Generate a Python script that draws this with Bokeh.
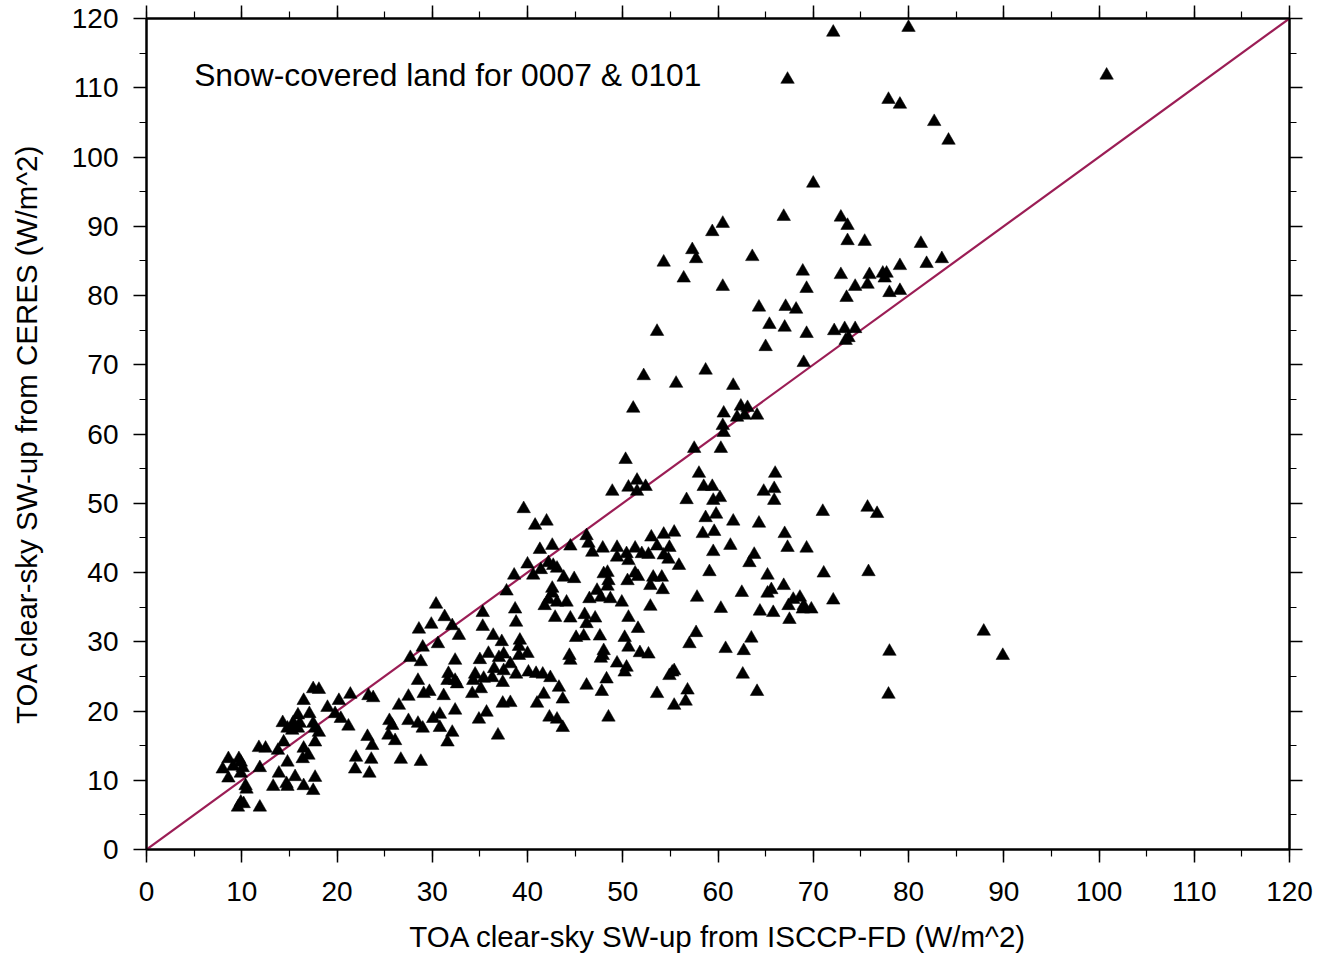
from bokeh.plotting import figure
from bokeh.models import Range1d, LinearAxis, SingleIntervalTicker, Label, CustomJSTickFormatter, ColumnDataSource
from bokeh.embed import file_html
from bokeh.resources import INLINE

# (ISCCP-FD, CERES) pairs in W/m^2, grouped by region of the chart
pts_top = [(72.1, 118.0), (80.0, 118.7), (67.3, 111.2), (100.8, 111.8), (77.9, 108.3),
           (79.1, 107.6), (82.7, 105.1), (84.2, 102.4)]

pts_upper = [(70.0, 96.2), (66.9, 91.4), (60.5, 90.4), (59.4, 89.2), (72.9, 91.3), (73.6, 90.1),
             (73.6, 87.9), (75.4, 87.8), (57.3, 86.6), (57.7, 85.3), (63.6, 85.6), (54.3, 84.8),
             (56.4, 82.5), (60.5, 81.3), (68.9, 83.5), (69.3, 81.0), (72.9, 83.0), (75.9, 83.0),
             (77.3, 83.2), (77.7, 83.2), (77.5, 82.5), (74.4, 81.3), (75.7, 81.6), (79.1, 84.3),
             (78.0, 80.4), (79.1, 80.7), (73.5, 79.7), (64.3, 78.3), (67.1, 78.4), (68.2, 78.0),
             (65.4, 75.8), (67.0, 75.4), (69.3, 74.5), (72.2, 74.9), (73.3, 75.2), (74.4, 75.2),
             (73.4, 73.5), (73.7, 73.9), (65.0, 72.6), (53.6, 74.8), (69.0, 70.3), (52.2, 68.4),
             (55.6, 67.3), (58.7, 69.2), (61.6, 67.0), (51.1, 63.7), (81.3, 87.5), (81.9, 84.6),
             (83.5, 85.3)]

pts_mid_right = [(62.4, 64.0), (63.1, 63.8), (60.6, 63.0), (62.0, 62.4), (62.8, 62.7), (64.1, 62.7),
                 (60.5, 61.2), (60.6, 60.2), (57.5, 57.9), (60.3, 57.9), (58.0, 54.3), (58.5, 52.4),
                 (59.4, 52.4), (56.7, 50.5), (59.5, 50.4), (60.2, 50.8), (66.0, 54.3), (64.8, 51.7),
                 (65.9, 52.1), (65.9, 50.4), (71.0, 48.8), (58.7, 47.9), (59.8, 48.4), (61.6, 47.4),
                 (64.3, 47.1), (58.4, 45.6), (59.6, 45.9), (55.4, 45.8), (53.0, 45.1), (54.3, 45.5),
                 (67.0, 45.6), (67.3, 43.6), (69.3, 43.5), (61.3, 43.9), (59.5, 43.0), (53.6, 43.8),
                 (54.9, 43.6), (52.7, 42.6), (54.3, 42.5), (54.8, 41.9), (55.9, 41.0), (63.8, 42.6),
                 (63.3, 41.4), (59.1, 40.1), (65.2, 39.6), (71.1, 39.9), (66.9, 38.1), (65.6, 37.5),
                 (65.2, 37.0), (62.5, 37.1), (57.8, 36.4), (53.2, 39.3), (54.1, 39.3), (52.9, 38.1),
                 (54.2, 37.5), (52.9, 35.1), (67.9, 36.1), (68.6, 36.4), (67.4, 35.2), (69.0, 35.2),
                 (69.8, 34.7), (68.9, 34.7), (72.1, 36.0), (60.3, 34.8), (64.4, 34.4), (65.8, 34.2),
                 (67.5, 33.2), (57.7, 31.3), (63.5, 30.5)]

pts_far_right = [(75.7, 49.4), (76.7, 48.5), (75.8, 40.1), (87.9, 31.5), (89.9, 28.0), (78.0, 28.6),
                 (77.9, 22.4), (64.1, 22.8), (62.6, 25.3), (60.8, 29.0), (62.7, 28.7)]

pts_middle = [(39.6, 49.2), (40.8, 46.8), (42.0, 47.4), (41.3, 43.3), (42.6, 43.9), (44.5, 43.8),
              (40.0, 41.2), (40.6, 39.6), (41.4, 40.4), (42.2, 41.4), (42.7, 41.0), (43.1, 40.6),
              (43.8, 39.3), (44.9, 39.1), (46.2, 45.3), (46.4, 44.2), (46.8, 42.9), (47.9, 43.5),
              (49.4, 43.6), (49.4, 42.2), (50.4, 42.7), (50.6, 41.7), (51.3, 43.5), (52.0, 42.7),
              (48.0, 39.8), (48.4, 40.0), (48.5, 38.8), (50.5, 38.8), (51.3, 39.9), (51.6, 39.4),
              (48.4, 38.0), (47.3, 37.4), (46.5, 36.2), (47.7, 36.4), (48.7, 36.2), (49.9, 35.7),
              (42.6, 37.7), (42.6, 37.0), (42.2, 36.1), (43.1, 35.7), (44.1, 35.7), (41.8, 35.2),
              (42.9, 33.5), (44.5, 33.4), (46.0, 33.9), (47.1, 33.4), (46.2, 32.6), (50.6, 33.5),
              (51.6, 31.9), (45.1, 30.6), (45.9, 30.8), (47.6, 30.8), (50.2, 30.6), (50.6, 29.2),
              (48.0, 28.7), (47.9, 28.0), (47.7, 27.6), (44.4, 28.0), (44.5, 27.3), (51.8, 28.4),
              (52.7, 28.2), (49.4, 26.9), (50.4, 26.3), (50.2, 25.6), (55.2, 25.6), (55.4, 25.8),
              (54.9, 25.1), (57.0, 29.7), (40.1, 25.6), (40.9, 25.4), (41.6, 25.3), (42.4, 24.8),
              (43.3, 23.4), (41.7, 22.4), (41.0, 21.1), (43.7, 21.7), (46.2, 23.7), (48.3, 24.6),
              (47.8, 22.8), (42.3, 19.1), (43.1, 18.8), (43.7, 17.6), (48.5, 19.1), (53.6, 22.5),
              (56.8, 23.0), (56.6, 21.4), (55.4, 20.8), (38.6, 39.6), (50.3, 56.3), (51.5, 53.3),
              (50.6, 52.3), (52.4, 52.4), (51.5, 51.7), (48.9, 51.7)]

pts_lower_mid = [(30.4, 35.4), (31.3, 33.6), (29.9, 32.5), (28.6, 31.8), (32.1, 32.3), (32.8, 30.9),
                 (30.6, 29.7), (29.0, 29.2), (27.7, 27.7), (28.8, 27.1), (32.4, 27.3), (37.8, 37.3),
                 (35.3, 34.2), (38.7, 34.7), (35.3, 32.2), (38.8, 32.8), (36.4, 30.9), (37.3, 30.0),
                 (39.2, 30.2), (39.1, 29.3), (40.0, 28.3), (39.1, 28.0), (35.9, 28.3), (35.0, 27.4),
                 (37.0, 27.7), (37.5, 28.2), (38.2, 26.8), (36.5, 26.1), (37.5, 25.8), (31.7, 25.4),
                 (32.4, 24.4), (31.6, 24.4), (32.6, 23.9), (34.5, 25.3), (34.3, 24.4), (35.4, 24.7),
                 (36.3, 24.8), (37.4, 24.1), (34.2, 22.5), (35.1, 23.2), (38.8, 25.3), (28.5, 24.4),
                 (29.1, 22.5), (29.7, 22.8), (31.2, 22.2), (27.5, 22.1), (26.5, 20.8), (32.4, 20.1),
                 (37.4, 21.1), (38.2, 21.2), (35.7, 19.8), (34.9, 18.8), (30.8, 19.5), (30.1, 18.9),
                 (30.8, 17.6), (32.1, 16.9), (31.6, 15.5), (25.5, 18.6), (25.8, 17.9), (27.5, 18.6),
                 (28.5, 18.2), (29.0, 17.5), (25.4, 16.5), (26.1, 15.7), (23.2, 16.3), (23.7, 15.0),
                 (36.9, 16.5), (26.7, 13.0), (28.8, 12.7), (22.0, 13.3), (23.6, 13.0), (21.9, 11.6),
                 (23.4, 11.0), (23.3, 22.2), (23.8, 21.9)]

pts_low = [(17.5, 23.2), (18.1, 23.1), (16.5, 21.5), (20.2, 21.5), (21.4, 22.4), (19.0, 20.5),
           (19.8, 19.6), (20.4, 18.9), (21.2, 17.8), (15.9, 19.4), (17.1, 19.6), (14.3, 18.3),
           (15.4, 18.3), (16.1, 18.2), (14.8, 17.5), (15.3, 17.2), (15.9, 17.5), (17.5, 18.2),
           (17.7, 17.5), (18.1, 16.9), (17.7, 15.5), (14.4, 15.5), (11.8, 14.7), (12.5, 14.6),
           (13.8, 14.3), (16.5, 14.6), (17.0, 13.6), (16.4, 13.1), (14.8, 12.6), (8.6, 13.1),
           (9.7, 13.1), (9.9, 12.6), (8.0, 11.6), (9.1, 12.0), (10.1, 11.8), (9.9, 11.0),
           (8.6, 10.3), (11.9, 11.8), (13.9, 11.0), (15.6, 10.5), (14.7, 9.5), (13.3, 9.1),
           (14.8, 9.1), (16.5, 9.2), (17.7, 10.4), (17.5, 8.5), (10.4, 9.2), (10.5, 8.7),
           (9.9, 6.8), (9.6, 6.1), (10.2, 6.6), (11.9, 6.1)]

one_to_one = [0, 120]

all_pts = pts_top + pts_upper + pts_mid_right + pts_far_right + pts_middle + pts_lower_mid + pts_low
src = ColumnDataSource(dict(isccp=[a for a, b in all_pts], ceres=[b for a, b in all_pts]))

FONT = "Liberation Sans"

p = figure(width=1318, height=958, x_range=Range1d(0, 120), y_range=Range1d(0, 120),
           output_backend="svg", toolbar_location=None,
           min_border_left=146, min_border_right=29, min_border_top=18, min_border_bottom=109)
p.background_fill_color = "white"
p.border_fill_color = "white"
p.outline_line_color = "black"
p.outline_line_width = 2
p.xgrid.visible = False
p.ygrid.visible = False

p.add_layout(LinearAxis(), "above")
p.add_layout(LinearAxis(), "right")

for ax in p.axis:
    ax.ticker = SingleIntervalTicker(interval=10, num_minor_ticks=2)
    ax.axis_line_color = "black"
    ax.axis_line_width = 2
    ax.major_tick_line_color = "black"
    ax.major_tick_line_width = 1.5
    ax.minor_tick_line_color = "black"
    ax.minor_tick_line_width = 1.2
    ax.major_tick_in = 0
    ax.major_tick_out = 13
    ax.minor_tick_in = 0
    ax.minor_tick_out = 7
    ax.major_label_text_font = FONT
    ax.major_label_text_font_size = "28px"
    ax.major_label_text_color = "black"
    ax.axis_label_text_font = FONT
    ax.axis_label_text_font_size = "29.5px"
    ax.axis_label_text_font_style = "normal"
    ax.axis_label_text_color = "black"

for ax in p.above + p.right:
    ax.formatter = CustomJSTickFormatter(code="return ''")
    ax.major_label_text_font_size = "0px"
    ax.major_label_standoff = 0

p.below[0].axis_label = "TOA clear-sky SW-up from ISCCP-FD (W/m^2)"
p.left[0].axis_label = "TOA clear-sky SW-up from CERES (W/m^2)"
p.below[0].major_label_standoff = 19
p.below[0].axis_label_standoff = 16
p.left[0].major_label_standoff = 15
p.left[0].axis_label_standoff = 26

p.line(x=one_to_one, y=one_to_one, line_color="#9B1D55", line_width=2.2)
p.scatter(x="isccp", y="ceres", source=src, marker="triangle", size=13.5,
          fill_color="black", line_color="black", line_width=0.5)

p.add_layout(Label(x=5, y=111.8, text="Snow-covered land for 0007 & 0101",
                   text_font=FONT, text_font_size="31.8px", text_color="black",
                   text_baseline="middle", text_align="left"))

open("out.html", "w").write(file_html(p, INLINE))
